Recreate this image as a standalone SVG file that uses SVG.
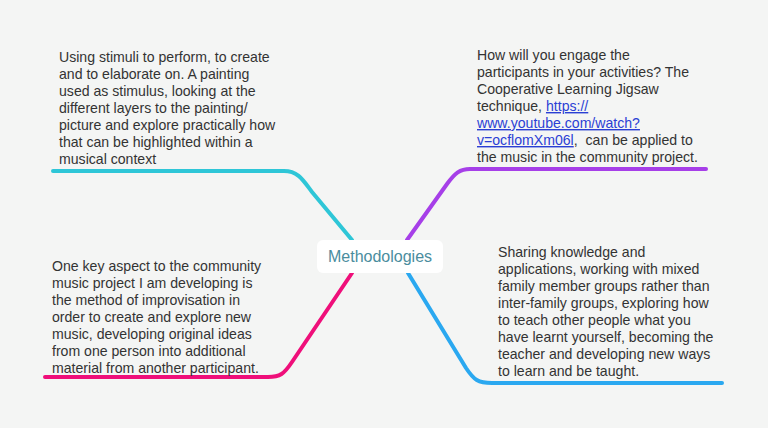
<svg xmlns="http://www.w3.org/2000/svg" width="768" height="428" viewBox="0 0 768 428">
<style>
.bg{fill:#f4f5f4}
.conn{fill:none;stroke-width:4;stroke-linecap:round;stroke-linejoin:round}
.t{font-family:"Liberation Sans","Noto Sans",Arial,sans-serif;font-size:14.1px;fill:#333333}
.lnk{fill:#2b3fd4;text-decoration:underline}
.root{font-family:"Liberation Sans","Noto Sans",Arial,sans-serif;font-size:16px;fill:#4a8d9e}
</style>
<rect class="bg" x="0" y="0" width="768" height="428"/>
<g id="connectors">
<path class="conn" stroke="#2ec6d7" d="M53,171 L284,171 C298,171 303,180 312,192 L352,240"/>
<path class="conn" stroke="#a63fe8" d="M407,240 L447,184 C455,173 460,169 470,169 L706,169"/>
<path class="conn" stroke="#ef0f7a" d="M352,273 L292,362 C284,374 280,377 268,377 L45,377"/>
<path class="conn" stroke="#2aa8f0" d="M408,273 L466,368 C474,380 478,383 492,383 L722,383"/>
</g>
<g id="root">
<rect x="317" y="240" width="126" height="33" rx="6" fill="#ffffff"/>
<text class="root" x="380" y="262" text-anchor="middle">Methodologies</text>
</g>
<g id="node-stimuli">
<text class="t" x="59" y="62">Using stimuli to perform, to create</text>
<text class="t" x="59" y="79">and to elaborate on. A painting</text>
<text class="t" x="59" y="96">used as stimulus, looking at the</text>
<text class="t" x="59" y="113">different layers to the painting/</text>
<text class="t" x="59" y="130">picture and explore practically how</text>
<text class="t" x="59" y="147">that can be highlighted within a</text>
<text class="t" x="59" y="164">musical context</text>
</g>
<g id="node-engage">
<text class="t" x="477" y="60">How will you engage the</text>
<text class="t" x="477" y="77">participants in your activities? The</text>
<text class="t" x="477" y="94">Cooperative Learning Jigsaw</text>
<text class="t" x="477" y="111">technique, <tspan class="lnk">https://</tspan></text>
<text class="t" x="477" y="128"><tspan class="lnk">www.youtube.com/watch?</tspan></text>
<text class="t" x="477" y="145"><tspan class="lnk">v=ocflomXm06l</tspan>, &#160;can be applied to</text>
<text class="t" x="477" y="162">the music in the community project.</text>
</g>
<g id="node-improvisation">
<text class="t" x="52" y="271">One key aspect to the community</text>
<text class="t" x="52" y="288">music project I am developing is</text>
<text class="t" x="52" y="305">the method of improvisation in</text>
<text class="t" x="52" y="322">order to create and explore new</text>
<text class="t" x="52" y="339">music, developing original ideas</text>
<text class="t" x="52" y="356">from one person into additional</text>
<text class="t" x="52" y="373">material from another participant.</text>
</g>
<g id="node-sharing">
<text class="t" x="498" y="257">Sharing knowledge and</text>
<text class="t" x="498" y="274">applications, working with mixed</text>
<text class="t" x="498" y="291">family member groups rather than</text>
<text class="t" x="498" y="308">inter-family groups, exploring how</text>
<text class="t" x="498" y="325">to teach other people what you</text>
<text class="t" x="498" y="342">have learnt yourself, becoming the</text>
<text class="t" x="498" y="359">teacher and developing new ways</text>
<text class="t" x="498" y="376">to learn and be taught.</text>
</g>
</svg>
